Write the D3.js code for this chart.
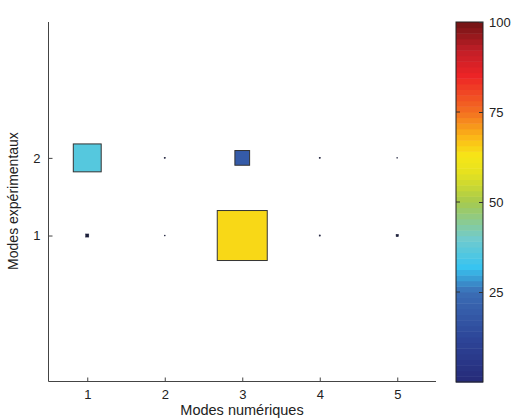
<!DOCTYPE html>
<html><head><meta charset="utf-8">
<script src="https://cdn.jsdelivr.net/npm/d3@7"></script>
<style>body{margin:0;background:#fff}svg{display:block}text{font-family:"Liberation Sans",Arial,sans-serif;fill:#222}</style>
</head><body><svg id="c" width="513" height="419"></svg>
<script>
// Data: MAC-like matrix (values in %)
const numModes = [1, 2, 3, 4, 5];          // x categories
const expModes = [1, 2];                    // y categories
const valuesRow1 = [4, 1, 64.5, 1.5, 3];   // experimental mode 1
const valuesRow2 = [36, 1.5, 19, 1.5, 1];  // experimental mode 2
const xTicks = [1, 2, 3, 4, 5];
const yTicks = [1, 2];
const cbTicks = [25, 50, 75, 100];
const cmStops = [0, 12, 25, 32, 40, 50, 58, 63, 68, 75, 85, 92, 100];
const cmColors = ["#262a78", "#2d4598", "#3b6db5", "#38c4f0", "#72cbcc", "#a6ca4e", "#e5e21f", "#f7e617", "#fbb817", "#f37021", "#ed2426", "#c21e27", "#701414"];

const svg = d3.select("#c");
const x = d3.scaleLinear().domain([0.5, 5.5]).range([48.5, 436]);
const y = d3.scaleLinear().domain([-0.88, 3.75]).range([381.5, 22]);
const color = d3.scaleLinear().domain(cmStops).range(cmColors).interpolate(d3.interpolateRgb);
const unit = x(1) - x(0);

const cells = [];
valuesRow1.forEach((v, i) => cells.push({x: numModes[i], y: expModes[0], v}));
valuesRow2.forEach((v, i) => cells.push({x: numModes[i], y: expModes[1], v}));

// axes
const xAxis = d3.axisBottom(x).tickValues(xTicks).tickSize(-4).tickPadding(8).tickFormat(d3.format("d"));
const gx = svg.append("g").attr("transform", "translate(0,381.5)").call(xAxis);
const yAxis = d3.axisLeft(y).tickValues(yTicks).tickSize(-4).tickPadding(8).tickFormat(d3.format("d"));
const gy = svg.append("g").attr("transform", "translate(48.5,0)").call(yAxis);
[gx, gy].forEach(g => {
  g.select(".domain").attr("stroke", "#444").attr("stroke-width", 1);
  g.selectAll(".tick line").attr("stroke", "#444");
  g.selectAll(".tick text").attr("font-size", 13).attr("fill", "#222").attr("font-family", "Liberation Sans, Arial, sans-serif");
});
gx.select(".domain").attr("d", `M${x(0.5)},0H${x(5.5)}`);
gy.select(".domain").attr("d", `M0,${y(-0.88)}V${y(3.75)}`);

// squares
svg.append("g").selectAll("rect").data(cells).join("rect")
  .attr("x", d => x(d.x) - d.v / 100 * unit / 2)
  .attr("y", d => y(d.y) - d.v / 100 * unit / 2)
  .attr("width", d => Math.max(0.8, d.v / 100 * unit))
  .attr("height", d => Math.max(0.8, d.v / 100 * unit))
  .attr("fill", d => d.v > 5 ? color(d.v) : "#1c1f3a")
  .attr("stroke", d => d.v > 5 ? "#333" : "#1c1f3a")
  .attr("stroke-width", d => d.v > 5 ? 1 : 0.5);

// labels
svg.append("text").attr("x", 242).attr("y", 415).attr("text-anchor", "middle").attr("font-size", 14.5).text("Modes numériques");
svg.append("text").attr("transform", "translate(18,201) rotate(-90)").attr("text-anchor", "middle").attr("font-size", 14).text("Modes expérimentaux");

// colorbar
const cb = {x: 456, w: 27};
const cy = d3.scaleLinear().domain([0, 100]).range([382, 22]);
const nb = 64;
const bands = d3.range(nb).map(i => ({lo: i * 100 / nb, hi: (i + 1) * 100 / nb}));
svg.append("g").selectAll("rect").data(bands).join("rect")
  .attr("x", cb.x).attr("width", cb.w)
  .attr("y", d => cy(d.hi)).attr("height", d => cy(d.lo) - cy(d.hi) + 0.5)
  .attr("fill", d => color((d.lo + d.hi) / 2));
svg.append("rect").attr("x", cb.x).attr("y", cy(100)).attr("width", cb.w).attr("height", cy(0) - cy(100))
  .attr("fill", "none").attr("stroke", "#222").attr("stroke-width", 1);
const cbAxis = d3.axisRight(cy).tickValues(cbTicks).tickSize(-4).tickPadding(6);
const gc = svg.append("g").attr("transform", `translate(${cb.x + cb.w},0)`).call(cbAxis);
gc.select(".domain").remove();
gc.selectAll(".tick line").attr("stroke", "#333");
gc.selectAll(".tick text").attr("font-size", 13).attr("fill", "#222").attr("font-family", "Liberation Sans, Arial, sans-serif");
svg.append("g").selectAll("line").data(cbTicks.filter(t => t < 100)).join("line")
  .attr("x1", cb.x).attr("x2", cb.x + 4).attr("y1", d => cy(d)).attr("y2", d => cy(d)).attr("stroke", "#333");
</script></body></html>
